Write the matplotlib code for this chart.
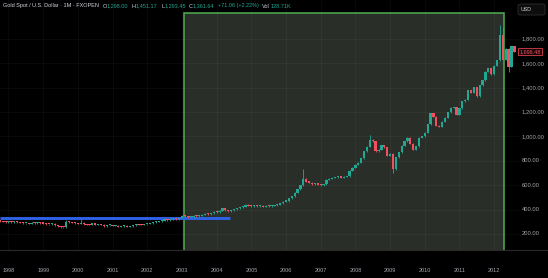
import numpy as np
import pandas as pd
import matplotlib.pyplot as plt
from matplotlib.patches import Rectangle, FancyBboxPatch
from matplotlib.transforms import blended_transform_factory

plt.rcParams['font.family'] = ['Liberation Sans', 'DejaVu Sans']

# Monthly closes (Oct 1997 .. Aug 2012)
closes_1997 = [305, 300, 296]
closes_1998 = [302, 297, 300, 296, 292, 289, 290, 284, 292, 290, 292, 288]
closes_1999 = [286, 280, 278, 284, 270, 262, 256, 254, 300, 298, 292, 288]
closes_2000 = [284, 294, 278, 276, 274, 288, 276, 278, 274, 264, 270, 272]
closes_2001 = [266, 266, 258, 262, 266, 260, 264, 272, 280, 276, 274, 278]
closes_2002 = [282, 290, 296, 300, 305, 310, 318, 314, 322, 326, 320, 332]
closes_2003 = [350, 344, 336, 338, 348, 344, 350, 358, 366, 362, 372, 384]
closes_2004 = [378, 392, 410, 394, 388, 396, 402, 410, 418, 424, 438, 432]
closes_2005 = [426, 432, 428, 432, 424, 430, 428, 432, 436, 440, 452, 466]
closes_2006 = [470, 492, 510, 540, 566, 600, 652, 630, 622, 608, 615, 604]
closes_2007 = [598, 610, 644, 652, 660, 666, 672, 660, 668, 675, 720, 745]
closes_2008 = [770, 785, 820, 880, 915, 975, 960, 880, 890, 930, 910, 840]
closes_2009 = [860, 730, 830, 870, 925, 960, 990, 940, 890, 920, 990, 1000]
closes_2010 = [1030, 1100, 1190, 1160, 1090, 1080, 1120, 1155, 1200, 1235, 1240, 1180]
closes_2011 = [1230, 1290, 1300, 1380, 1360, 1405, 1330, 1420, 1460, 1530, 1560, 1510]
closes_2012 = [1580, 1625, 1830, 1630, 1720, 1570, 1740, 1696.48]
first_open = 308

# visible long wicks
wick_highs = {'1999-09': 315, '2000-02': 323, '2006-07': 733, '2008-06': 1010,
              '2012-03': 1915, '2012-04': 1900}
wick_lows = {'1999-09': 248, '2009-02': 700, '2012-06': 1530}

years = list(range(1998, 2013))
price_ticks = [200, 400, 600, 800, 1000, 1200, 1400, 1600, 1800]

hline_price = 334          # blue horizontal line
box_top = 2013             # green rectangle top

closes = (closes_1997 + closes_1998 + closes_1999 + closes_2000 + closes_2001 +
          closes_2002 + closes_2003 + closes_2004 + closes_2005 + closes_2006 +
          closes_2007 + closes_2008 + closes_2009 + closes_2010 + closes_2011 +
          closes_2012)
periods = pd.period_range('1997-10', periods=len(closes), freq='M')
xs = np.array([(p.year - 1998) * 12 + p.month - 1 for p in periods])
opens = [first_open] + closes[:-1]

UP, DOWN = '#22a892', '#ef5062'
BG = '#000000'

fig = plt.figure(figsize=(5.48, 2.78), dpi=100, facecolor=BG)
pane_right = 519 / 548
pane_bottom = (278 - 250) / 278
ax = fig.add_axes([0, pane_bottom, pane_right, 1 - pane_bottom], facecolor=BG)

ax.set_xlim(-2.94, 176.6)
ax.set_ylim(68.7, 2119.6)

# green highlight box and blue level line
ax.add_patch(Rectangle((60.7, 0), 171.5 - 60.7, box_top, facecolor='#2a2e28',
                       edgecolor='#4caf50', lw=1.1, zorder=1))

for yr in years:
    ax.axvline((yr - 1998) * 12, color='#ffffff', alpha=0.045, lw=0.6, zorder=2)
for p in price_ticks:
    ax.axhline(p, color='#ffffff', alpha=0.045, lw=0.6, zorder=2)

ax.hlines(hline_price, -3, 76.6, color='#2f62e6', lw=2.1, zorder=3)

# candles
for x, per, o, c in zip(xs, periods, opens, closes):
    col = UP if c >= o else DOWN
    key = str(per)
    hi = wick_highs.get(key, max(o, c) + 4)
    lo = wick_lows.get(key, min(o, c) - 4)
    ax.vlines(x, lo, hi, color=col, lw=0.6, zorder=4)
    ax.bar(x, max(abs(c - o), 9), bottom=min(o, c), width=0.78, color=col,
           lw=0, zorder=5)

for s in ax.spines.values():
    s.set_visible(False)
ax.set_xticks([])
ax.set_yticks([])

# separator above time scale
fig.add_artist(plt.Line2D([0, 1], [pane_bottom, pane_bottom], color='#2a2a2a', lw=0.8))

# time scale labels
tx = blended_transform_factory(ax.transData, fig.transFigure)
for yr in years:
    ax.text((yr - 1998) * 12, (278 - 271) / 278, str(yr), transform=tx,
            ha='center', va='center', fontsize=4, color='#a3a6ad', clip_on=False)

# price scale labels
ty = blended_transform_factory(fig.transFigure, ax.transData)
for p in price_ticks:
    ax.text(522 / 548, p, '{:,.2f}'.format(p), transform=ty, ha='left',
            va='center', fontsize=4.2, color='#a3a6ad', clip_on=False)

# last price tag
last = closes[-1]
ax.text(530 / 548, last, '{:,.2f}'.format(last), transform=ty, ha='center',
        va='center', fontsize=4, color='#ef5060', clip_on=False,
        bbox=dict(boxstyle='square,pad=0.25', fc='#1a0608', ec='#d8404f', lw=0.6))

# USD button
fig.add_artist(FancyBboxPatch((518 / 548, 1 - 15 / 278), 27 / 548, 11 / 278,
                              boxstyle='round,pad=0,rounding_size=0.006',
                              transform=fig.transFigure, fc='#0d0d0d',
                              ec='#2e2e2e', lw=0.6))
fig.text(521 / 548, 1 - 9.5 / 278, 'USD', fontsize=3.8, color='#d1d4dc', va='center')

# legend row
y0 = 1 - 6 / 278
t = fig.text(3 / 548, y0, 'Gold Spot / U.S. Dollar \u00b7 1M \u00b7 FXOPEN',
             fontsize=4, color='#d1d4dc', va='center')
parts = [('O', '#d1d4dc', 2.5), ('1,298.00', UP, 0),
         ('H', '#d1d4dc', 2.5), ('1,451.17', UP, 0),
         ('L', '#d1d4dc', 2.5), ('1,293.45', UP, 0),
         ('C', '#d1d4dc', 2.5), ('1,361.64', UP, 0),
         ('+71.06 (+2.22%)', UP, 2.5),
         ('Vol', '#d1d4dc', 2.5), ('128.71K', UP, 0)]
for s, col, gap in parts:
    t = ax.annotate(s, xy=(1, 0.5), xycoords=t, xytext=(gap, 0),
                    textcoords='offset points', fontsize=4, color=col,
                    va='center', ha='left', annotation_clip=False)

fig.savefig('out.png', dpi=100, facecolor=BG)
